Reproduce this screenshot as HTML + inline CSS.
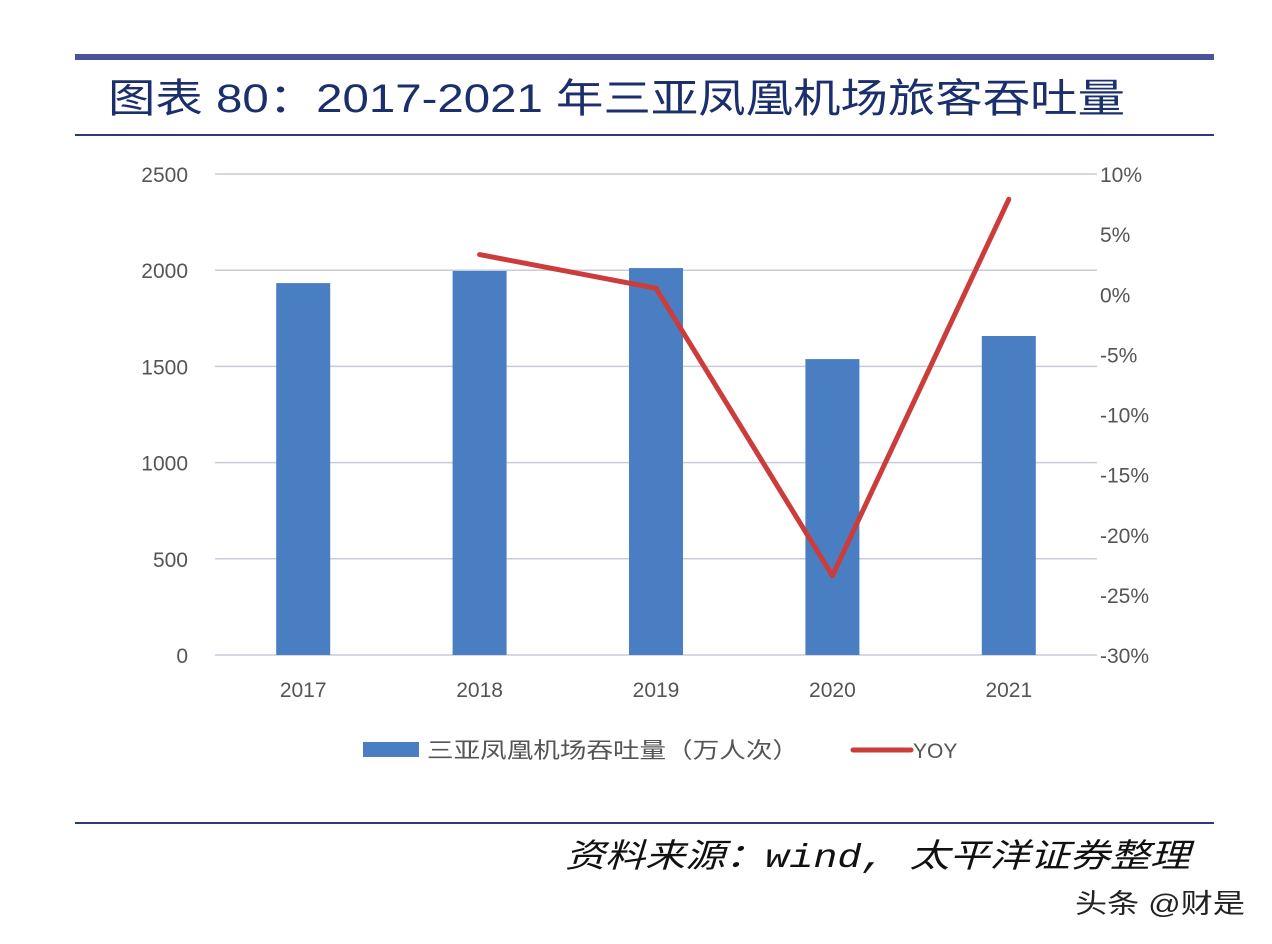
<!DOCTYPE html>
<html><head><meta charset="utf-8">
<style>
html,body{margin:0;padding:0;background:#fff;}
body{width:1272px;height:944px;position:relative;overflow:hidden;font-family:"Liberation Sans","Noto Sans CJK SC",sans-serif;}
.abs{position:absolute;}
</style></head>
<body>
<div class="abs" style="left:75px;top:54px;width:1139px;height:6px;background:#4a5497;"></div>
<div class="abs" style="left:75px;top:134px;width:1139px;height:2px;background:#2b3a7c;"></div>
<div class="abs" style="left:75px;top:822px;width:1139px;height:2px;background:#2b3a7c;"></div>

<svg class="abs" style="left:0;top:0" width="1272" height="944" id="chart">
<text x="108" y="112" font-size="40" fill="#1b2f6c" textLength="1017" lengthAdjust="spacingAndGlyphs" font-family="Liberation Sans, Noto Sans CJK SC, sans-serif">图表 80：2017-2021 年三亚凤凰机场旅客吞吐量</text>
<text x="565" y="867" font-size="33" font-style="italic" fill="#111" textLength="625" lengthAdjust="spacingAndGlyphs" font-family="Liberation Mono, Noto Sans CJK SC, monospace">资料来源：wind, 太平洋证券整理</text>
<text x="1075" y="913" font-size="27" fill="#222" textLength="170" lengthAdjust="spacingAndGlyphs" font-family="Liberation Sans, Noto Sans CJK SC, sans-serif">头条 @财是</text>
</svg>

<script>
const categories=["2017","2018","2019","2020","2021"];
const throughput=[1933,1996,2011,1538,1658];
const yoyCats=["2018","2019","2020","2021"];
const yoy=[3.3,0.5,-23.4,7.9];
const leftTicks=[0,500,1000,1500,2000,2500];
const rightTicks=[-30,-25,-20,-15,-10,-5,0,5,10];

const NS="http://www.w3.org/2000/svg";
const svg=document.getElementById('chart');
const x0=215,x1=1097,yTop=174,yBot=655;
const band=(x1-x0)/categories.length;
const xPos=c=>x0+band*(categories.indexOf(c)+0.5);
const yL=v=>yBot-(v/2500)*(yBot-yTop);
const yR=v=>yBot-((v+30)/40)*(yBot-yTop);
function mk(t,a){const e=document.createElementNS(NS,t);for(const k in a)e.setAttribute(k,a[k]);svg.appendChild(e);return e;}

leftTicks.forEach(v=>{
  const g=mk('line',{x1:x0,x2:x1,y1:yL(v),y2:yL(v),stroke:'#c8ccd8','stroke-width':1.5});
  
  
  const t=mk('text',{x:188,y:yL(v)+8,'text-anchor':'end','font-size':21,fill:'#555','font-family':'Liberation Sans, sans-serif'});
  t.textContent=v;
  
  
});
rightTicks.forEach(v=>{
  const t=mk('text',{x:1100,y:yR(v)+8,'font-size':21,fill:'#555','font-family':'Liberation Sans, sans-serif'});
  t.textContent=v+'%';
  
  
});
categories.forEach((c,i)=>{
  const b=mk('rect',{x:xPos(c)-27,y:yL(throughput[i]),width:54,height:yBot-yL(throughput[i]),fill:'#4a7ec2'});
  
  
  const t=mk('text',{x:xPos(c),y:697,'text-anchor':'middle','font-size':21,fill:'#555','font-family':'Liberation Sans, sans-serif'});
  t.textContent=c;
  
  
});
const pts=yoyCats.map((c,i)=>xPos(c)+','+yR(yoy[i])).join(' ');
const pl=mk('polyline',{points:pts,fill:'none',stroke:'#cc3c3a','stroke-width':5,'stroke-linejoin':'round','stroke-linecap':'round'});



const lb=mk('rect',{x:363,y:742,width:56,height:15,fill:'#4a7ec2'});


const lt=mk('text',{x:427,y:758,'font-size':22,fill:'#555',textLength:372,lengthAdjust:'spacingAndGlyphs','font-family':'Liberation Sans, Noto Sans CJK SC, sans-serif'});
lt.textContent='三亚凤凰机场吞吐量（万人次）';


const ll=mk('line',{x1:853,x2:911,y1:750,y2:750,stroke:'#cc3c3a','stroke-width':5,'stroke-linecap':'round'});


const lt2=mk('text',{x:913,y:758,'font-size':21,fill:'#555','font-family':'Liberation Sans, sans-serif'});
lt2.textContent='YOY';


</script>
</body></html>
